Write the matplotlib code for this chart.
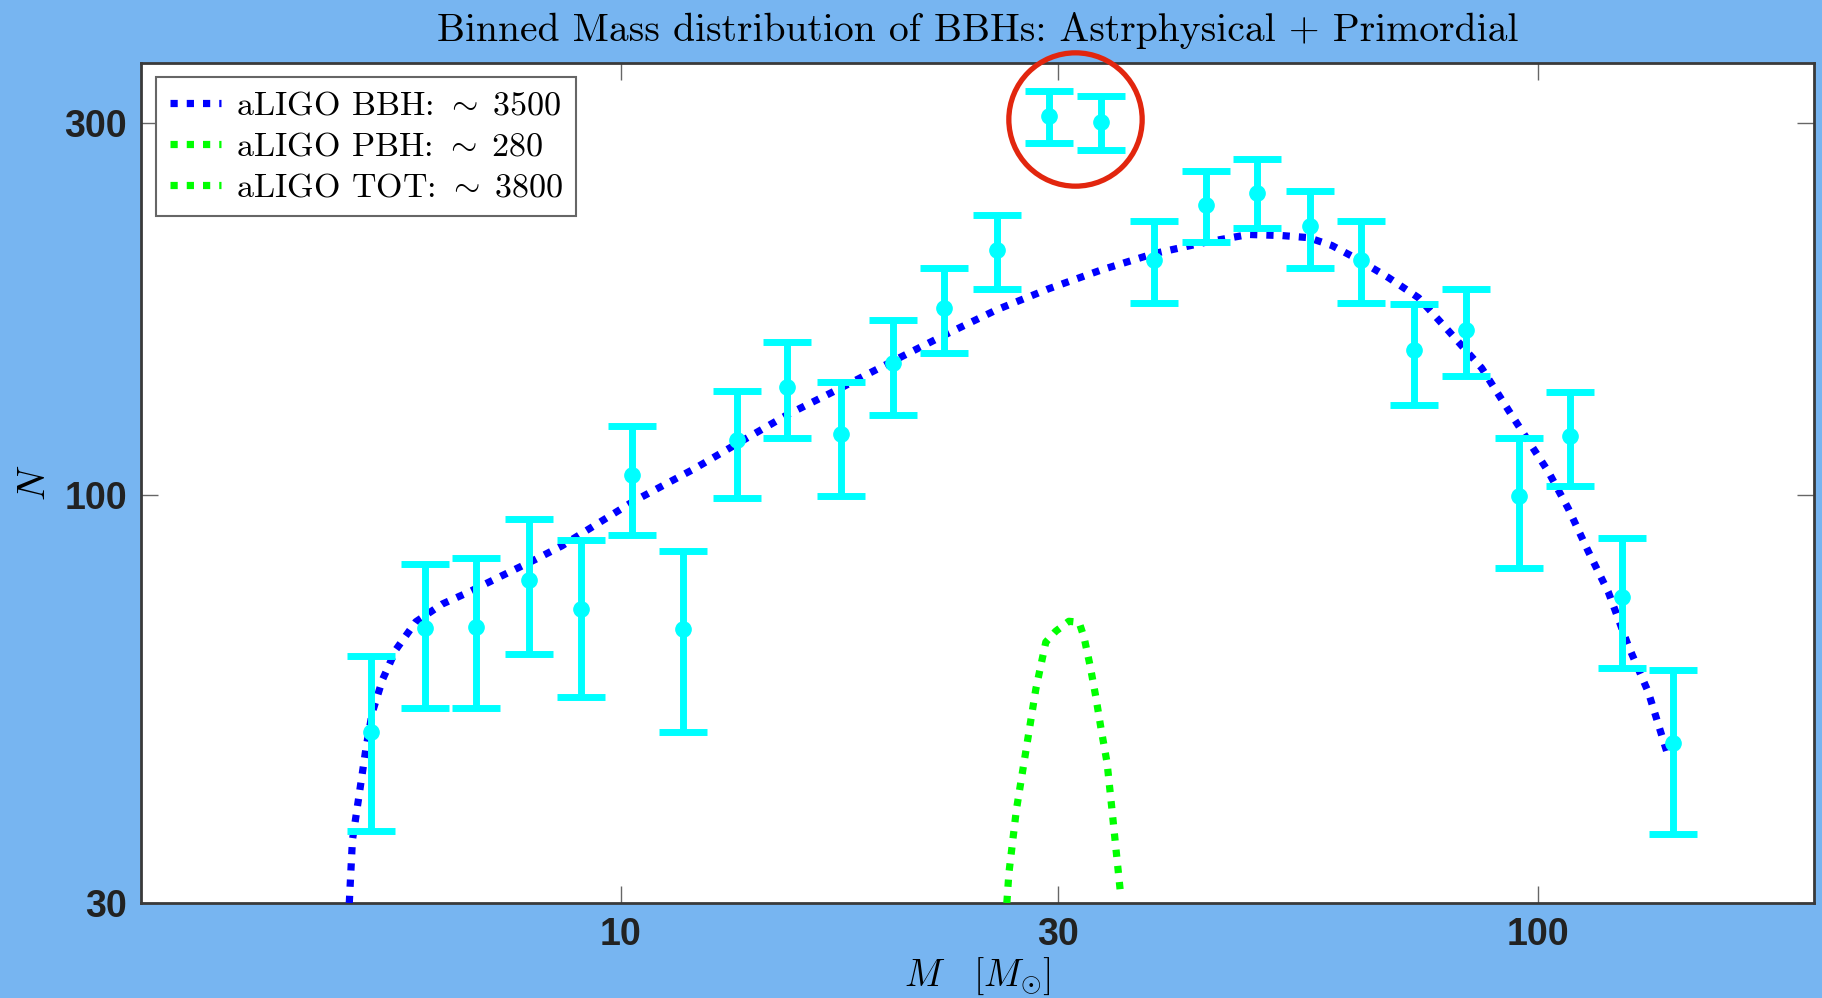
import numpy as np
import matplotlib
matplotlib.use("Agg")
import matplotlib.pyplot as plt

# binned counts (astrophysical + primordial), with 1-sigma bounds
mass_bins = [5.35, 6.12, 6.96, 7.94, 9.06, 10.3, 11.7, 13.4, 15.2, 17.4, 19.8, 22.5, 25.7,
             29.3, 33.4, 38.1, 43.5, 49.4, 56.4, 64.1, 73.2, 83.5, 95.3, 108.3, 123.6, 140.5]
counts = [49.7, 67.5, 67.7, 77.8, 71.4, 106.0, 67.3, 117.5, 137.7, 119.6, 147.5, 173.5, 206.0,
          306.0, 301.0, 200.0, 235.6, 243.8, 221.0, 200.0, 153.3, 162.9, 99.8, 119.2, 74.0, 48.1]
counts_lo = [37.1, 53.3, 53.3, 62.6, 55.1, 89.0, 49.7, 99.0, 118.4, 99.7, 126.8, 152.2, 183.9,
             282.7, 277.0, 176.4, 211.0, 220.0, 195.6, 176.4, 130.4, 142.1, 80.7, 102.6, 60.1, 36.8]
counts_hi = [62.2, 81.6, 83.0, 93.3, 87.7, 122.5, 84.8, 135.9, 157.0, 139.6, 167.6, 195.6, 228.5,
             330.0, 324.5, 224.5, 260.0, 269.5, 245.6, 224.7, 175.8, 183.9, 118.5, 135.7, 88.1, 59.7]

# model curves
bbh_mass = [5.06, 5.10, 5.19, 5.28, 5.36, 5.50, 5.69, 5.98, 6.39, 6.83, 7.42, 8.09, 8.63, 10.3,
            12.0, 13.4, 15.2, 17.4, 19.8, 22.5, 25.7, 29.3, 33.4, 38.1, 43.5, 48.4, 52.6, 56.2,
            59.6, 63.7, 68.7, 74.1, 79.9, 86.8, 93.6, 102.6, 107.9, 113.5, 119.3, 125.5, 131.9, 138.7]
bbh_n = [30.0, 36.1, 41.5, 47.6, 52.6, 58.0, 63.4, 68.8, 72.5, 75.1, 78.8, 82.8, 86.1, 98.0,
         107.9, 116.4, 126.8, 137.3, 148.5, 160.2, 172.8, 183.9, 194.3, 203.9, 211.0, 215.8, 215.1,
         213.8, 208.9, 200.4, 190.0, 179.0, 162.3, 145.5, 126.6, 107.2, 96.1, 84.6, 75.1, 64.0,
         55.9, 46.2]
pbh_mass = [26.36, 26.5, 27.0, 27.7, 28.35, 29.07, 29.8, 30.8, 31.6, 32.0, 32.5, 32.95, 33.4,
            33.9, 34.3, 34.7, 35.1]
pbh_n = [30.0, 32.8, 39.5, 47.6, 56.4, 64.8, 66.9, 68.9, 68.7, 65.7, 60.3, 55.2, 50.1, 45.4,
         39.8, 34.8, 30.5]

legend_labels = [r"aLIGO BBH: $\sim\;$3500", r"aLIGO PBH: $\sim\;$280", r"aLIGO TOT: $\sim\;$3800"]
x_ticks = [10, 30, 100]
y_ticks = [30, 100, 300]
highlight = [13, 14]  # the two circled bins

plt.rcParams["mathtext.fontset"] = "cm"
plt.rcParams["axes.unicode_minus"] = False

fig = plt.figure(figsize=(18.22, 9.98), dpi=100, facecolor="#77B5F1")
ax = fig.add_axes([0.0774, 0.0952, 0.9183, 0.8417])
ax.set_facecolor("white")

dots = (0, (1, 1.25))

# model lines
ax.plot(bbh_mass, bbh_n, color="#0000FF", lw=5.2, linestyle=dots,
        label=legend_labels[0], zorder=3)
ax.plot(pbh_mass, pbh_n, color="#00FF00", lw=5.2, linestyle=dots,
        label=legend_labels[1], zorder=3)
ax.plot([], [], color="#00FF00", lw=5.2, linestyle=dots, label=legend_labels[2])

# binned data with error bars
counts_arr = np.array(counts)
yerr = [counts_arr - np.array(counts_lo), np.array(counts_hi) - counts_arr]
ax.errorbar(mass_bins, counts, yerr=yerr, fmt="o", color="#00FFFF", ms=11, elinewidth=5,
            capsize=17, capthick=5, zorder=4)

# red circle around the primordial excess
cx = np.exp(np.mean(np.log([mass_bins[i] for i in highlight])))
cy = np.exp(np.mean(np.log([counts[i] for i in highlight])))
ax.plot([cx], [cy], marker="o", ms=96, mfc="none", mec="#E2260E", mew=3.8,
        clip_on=False, zorder=6)

ax.set_xscale("log")
ax.set_yscale("log")
ax.set_xlim(3, 200)
ax.set_ylim(30, 358)
ax.minorticks_off()
ax.set_xticks(x_ticks)
ax.set_xticklabels([str(t) for t in x_ticks])
ax.set_yticks(y_ticks)
ax.set_yticklabels([str(t) for t in y_ticks])
ax.tick_params(which="both", direction="in", length=12, width=1, color="#666666",
               top=True, right=True, labelsize=27, pad=10)
for lab in ax.get_xticklabels() + ax.get_yticklabels():
    lab.set_family("Liberation Sans")
    lab.set_fontweight("bold")
    lab.set_color("#222222")
for sp in ax.spines.values():
    sp.set_color("#3a3a3a")
    sp.set_linewidth(2)

ax.set_title("Binned Mass distribution of BBHs: Astrphysical + Primordial",
             family="cmr10", fontsize=28.5, pad=16)
ax.set_xlabel(r"$M\quad[M_{\odot}]$", fontsize=27, labelpad=2)
ax.set_ylabel(r"$N$", fontsize=28, labelpad=8)

leg = ax.legend(loc="upper left", prop={"family": "cmr10", "size": 24.5}, frameon=True,
                fancybox=False, edgecolor="#666666", framealpha=1, handlelength=1.5,
                handletextpad=0.45, borderpad=0.4, labelspacing=0.33, borderaxespad=0,
                bbox_to_anchor=(0.009, 0.983))
leg.get_frame().set_linewidth(1.5)

fig.savefig("out.png", dpi=100, facecolor=fig.get_facecolor())
